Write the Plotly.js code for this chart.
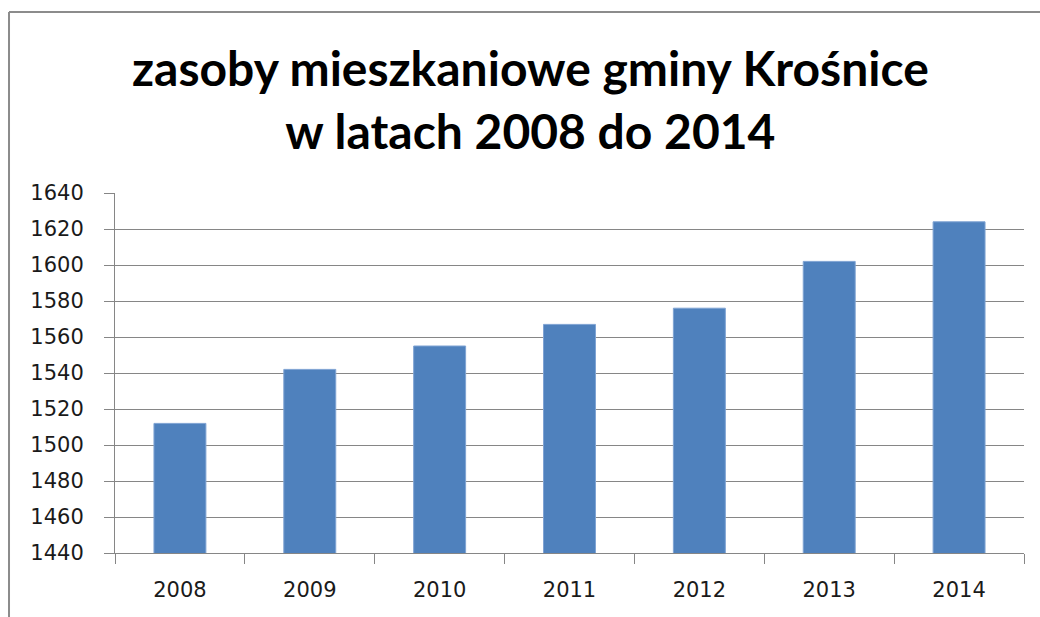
<!DOCTYPE html>
<html>
<head>
<meta charset="utf-8">
<script src="https://cdn.plot.ly/plotly-3.0.1.min.js"></script>
<style>html,body{margin:0;padding:0;background:#fff;}#chart{width:1040px;height:617px;}</style>
</head>
<body>
<div id="chart"></div>
<script>
var years = ['2008','2009','2010','2011','2012','2013','2014'];
var values = [1512, 1542, 1555, 1567, 1576, 1602, 1624];
var yTicks = [1440,1460,1480,1500,1520,1540,1560,1580,1600,1620,1640];
var titleText = 'zasoby mieszkaniowe gminy Krośnice<br>w latach 2008 do 2014';

var trace = {
  type: 'bar',
  x: years,
  y: values,
  marker: {color: '#4F81BD', line: {color: '#7FA3D3', width: 1}},
  hoverinfo: 'x+y'
};

var layout = {
  width: 1040, height: 617,
  margin: {l: 115, r: 16, t: 193, b: 64},
  paper_bgcolor: '#ffffff', plot_bgcolor: '#ffffff',
  showlegend: false,
  bargap: 0.6,
  title: {
    text: titleText,
    font: {family: 'Lato, "Open Sans", sans-serif', size: 48, color: '#000000', weight: 700},
    x: 0.51, xanchor: 'center', y: 0.86, yanchor: 'top'
  },
  xaxis: {
    type: 'category',
    showline: true, linecolor: '#868686', linewidth: 1,
    ticks: 'outside', tickson: 'boundaries', ticklen: 10, tickcolor: '#868686',
    showgrid: false,
    tickfont: {family: '"DejaVu Sans", sans-serif', size: 21, color: '#1a1a1a'},
    ticklabelstandoff: 18
  },
  yaxis: {
    range: [1440, 1640],
    tickvals: yTicks,
    ticktext: yTicks.map(String),
    showline: true, linecolor: '#868686', linewidth: 1,
    ticks: 'outside', ticklen: 10, tickcolor: '#868686',
    showgrid: true, gridcolor: '#868686', gridwidth: 1,
    zeroline: false,
    tickfont: {family: '"DejaVu Sans", sans-serif', size: 21, color: '#1a1a1a'},
    ticklabelstandoff: 16
  },
  shapes: [
    {type: 'line', xref: 'paper', yref: 'paper', x0: -0.1166, x1: -0.1166, y0: -0.4, y1: 1.5028,
     line: {color: '#8c8c8c', width: 2}},
    {type: 'line', xref: 'paper', yref: 'paper', x0: -0.1166, x1: 1.1, y0: 1.5028, y1: 1.5028,
     line: {color: '#8c8c8c', width: 2}}
  ]
};

Plotly.newPlot('chart', [trace], layout, {displayModeBar: false, staticPlot: true});
</script>
</body>
</html>
